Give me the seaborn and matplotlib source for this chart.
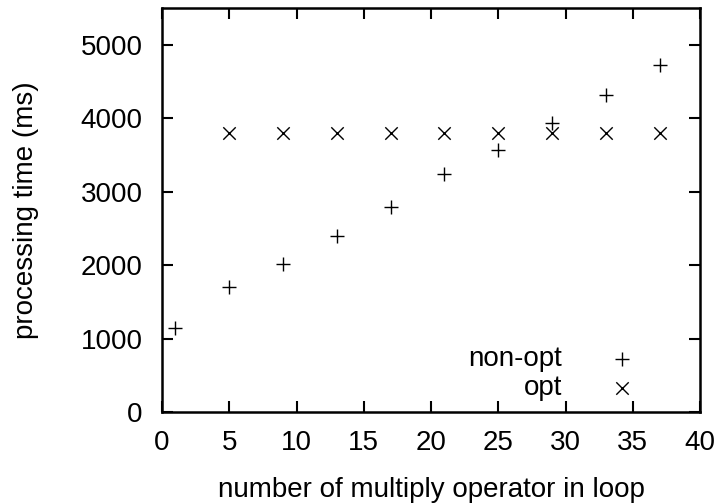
import matplotlib
matplotlib.use("Agg")
import matplotlib.pyplot as plt
import seaborn as sns
import pandas as pd

x_nonopt = [1, 5, 9, 13, 17, 21, 25, 29, 33, 37]
y_nonopt = [1150, 1700, 2010, 2400, 2790, 3240, 3570, 3940, 4320, 4720]
x_opt = [5, 9, 13, 17, 21, 25, 29, 33, 37]
y_opt = [3800, 3800, 3800, 3800, 3800, 3800, 3800, 3800, 3800]
x_ticks = [0, 5, 10, 15, 20, 25, 30, 35, 40]
y_ticks = [0, 1000, 2000, 3000, 4000, 5000]

sns.set_style("ticks", rc={"text.color": "black", "axes.labelcolor": "black",
                           "xtick.color": "black", "ytick.color": "black",
                           "axes.edgecolor": "black"})
plt.rcParams['font.family'] = ['Liberation Sans', 'DejaVu Sans']

df_n = pd.DataFrame({"x": x_nonopt, "y": y_nonopt})
df_o = pd.DataFrame({"x": x_opt, "y": y_opt})

fig = plt.figure(figsize=(7.21, 5.03), dpi=100)
ax = fig.add_axes([162/721, 1 - 412/503, (700 - 162)/721, (412 - 8)/503])

sns.scatterplot(data=df_n, x="x", y="y", marker="+", color="black", s=90,
                linewidth=1.0, label="non-opt", ax=ax)
sns.scatterplot(data=df_o, x="x", y="y", marker="x", color="black", s=80,
                linewidth=1.0, label="opt", ax=ax)

ax.set_xlim(0, 40)
ax.set_ylim(0, 5500)
ax.set_xticks(x_ticks)
ax.set_yticks(y_ticks)
ax.tick_params(direction="in", length=8, width=1.5, top=True, right=True,
               labelsize=20, colors="black")
ax.tick_params(axis="y", pad=14)
ax.tick_params(axis="x", pad=13)
for s in ax.spines.values():
    s.set_visible(True)
    s.set_linewidth(1.8)
    s.set_color("black")
ax.set_xlabel("number of multiply operator in loop", fontsize=20, labelpad=15)
ax.set_ylabel("processing time (ms)", fontsize=20, labelpad=30)

leg = ax.legend(loc="lower right", frameon=False, markerfirst=False,
                fontsize=20, handletextpad=1.15, labelspacing=0.1,
                borderaxespad=0.0, bbox_to_anchor=(0.927, 0.0))
for t in leg.get_texts():
    t.set_ha("right")
    t.set_color("black")

fig.savefig("out.png", dpi=100)
